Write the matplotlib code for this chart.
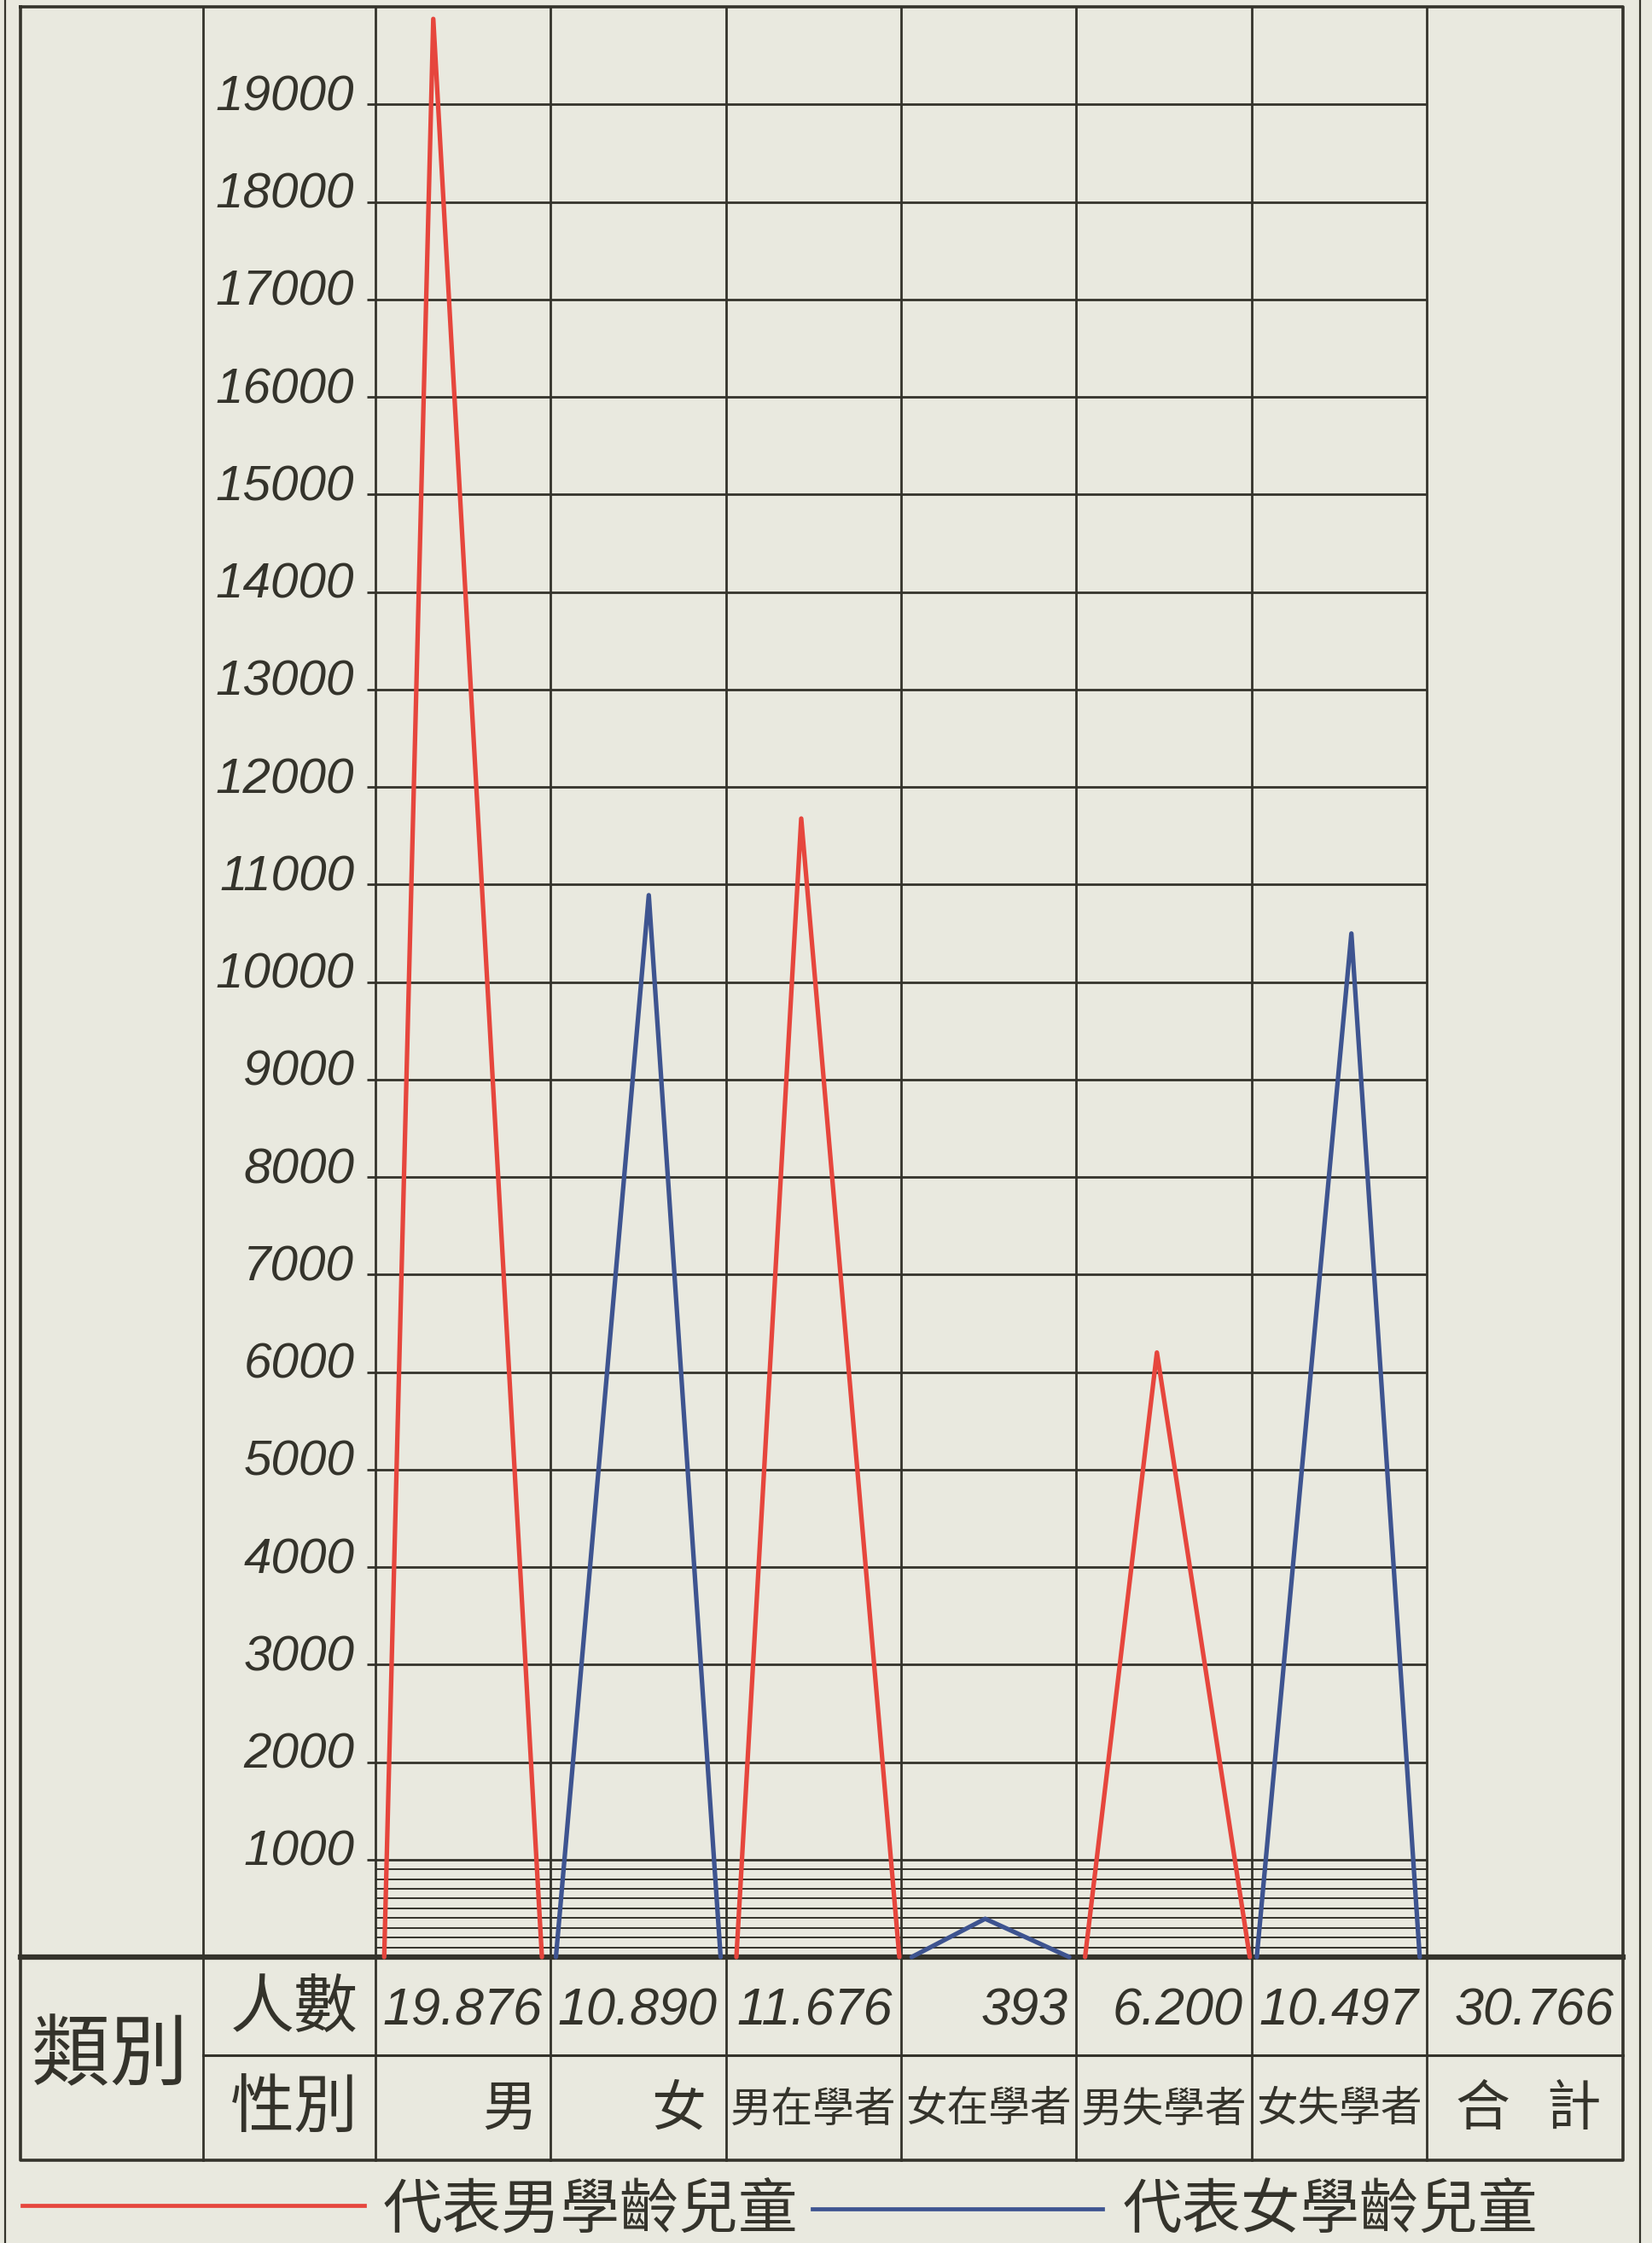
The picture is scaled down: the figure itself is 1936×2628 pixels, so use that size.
import matplotlib
matplotlib.use('Agg')
import matplotlib.pyplot as plt
import numpy as np

plt.rcParams['font.family'] = ['Noto Sans CJK TC', 'DejaVu Sans']

# data
categories = ['男', '女', '男在學者', '女在學者', '男失學者', '女失學者']
counts = [19876, 10890, 11676, 393, 6200, 10497]
sexes = ['m', 'f', 'm', 'f', 'm', 'f']
total_label = '合   計'
total = 30766
yticks = list(range(1000, 20000, 1000))
minor_ticks = list(range(100, 1000, 100))
row_titles = ['人數', '性別']
side_title = '類別'
legend_labels = ['代表男學齡兒童', '代表女學齡兒童']

# where each hand drawn peak sits inside its column
rise = [0.05, 0.03, 0.06, 0.06, 0.05, 0.03]
apex = [0.33, 0.56, 0.43, 0.48, 0.46, 0.57]
fall = [0.95, 0.97, 0.99, 0.96, 0.99, 0.96]

paper = '#e9e9df'
ink = '#34332b'
red = '#e6463d'
blue = '#3e5490'
colors = {'m': red, 'f': blue}

W, H = 1936, 2628
fig = plt.figure(figsize=(W / 100, H / 100), dpi=100)
fig.patch.set_facecolor(paper)

# background axes in pixel coords for frame / table / legend
bg = fig.add_axes([0, 0, 1, 1])
bg.set_xlim(0, W)
bg.set_ylim(H, 0)
bg.axis('off')
bg.set_facecolor(paper)

x_left, x_lab, x0, x6, x1 = 24, 238, 440, 1672, 1902
y_top, y_zero, y_row, y_bot = 8, 2293, 2408, 2531
col_x = list(np.linspace(x0, x6, len(categories) + 1)) + [x1]

# chart axes (data columns only)
n = len(categories)
ax = fig.add_axes([x0 / W, 1 - y_zero / H, (x6 - x0) / W, (y_zero - y_top) / H])
ax.set_xlim(0, n)
ax.set_ylim(0, 20000)
ax.axis('off')
ax.patch.set_alpha(0)

stub = 10 / ((x6 - x0) / n)
ax.hlines(yticks, -stub, n, color=ink, lw=2.0, clip_on=False)
ax.hlines(minor_ticks, 0, n, color=ink, lw=1.4)
ax.vlines(range(n + 1), 0, 20000, color=ink, lw=2.0, clip_on=False)

for v in yticks:
    ax.text(-0.12, v + 70, f'{v}', ha='right', va='center', fontsize=42,
            color=ink, family='Liberation Sans', style='italic', clip_on=False)

for i, (v, s) in enumerate(zip(counts, sexes)):
    xs = [i + rise[i], i + apex[i], i + fall[i]]
    ax.plot(xs, [0, v, 0], color=colors[s], lw=3.8, solid_joinstyle='round',
            solid_capstyle='round', clip_on=False)

# outer double border
for x in (6, 1922):
    bg.plot([x, x], [0, H], color=ink, lw=1.6)
# frame
bg.plot([x_left, x1, x1, x_left, x_left], [y_top, y_top, y_bot, y_bot, y_top],
        color=ink, lw=2.6)
bg.plot([x_lab, x_lab], [y_top, y_bot], color=ink, lw=2.0)
bg.plot([x_left, x1], [y_zero, y_zero], color=ink, lw=4.5)
bg.plot([x_lab, x1], [y_row, y_row], color=ink, lw=2.2)
for cx in col_x[:-1]:
    bg.plot([cx, cx], [y_zero, y_bot], color=ink, lw=2.0)

# table text
ym1 = (y_zero + y_row) / 2 + 4
ym2 = (y_row + y_bot) / 2 + 2
bg.text((x_left + x_lab) / 2 - 2, (y_zero + y_bot) / 2 - 2, side_title,
        ha='center', va='center', fontsize=66, color=ink)
bg.text((x_lab + x0) / 2 + 6, ym1, row_titles[0], ha='center', va='center',
        fontsize=54, color=ink)
bg.text((x_lab + x0) / 2 + 6, ym2, row_titles[1], ha='center', va='center',
        fontsize=54, color=ink)

nums = counts + [total]
for i, v in enumerate(nums):
    bg.text(col_x[i + 1] - 10, ym1 + 18, f'{v:,}'.replace(',', '.'),
            ha='right', va='baseline', fontsize=44, color=ink,
            family='Liberation Sans', style='italic')

for i, c in enumerate(categories):
    if len(c) == 1:
        bg.text(col_x[i + 1] - 16 - 8 * i, ym2, c, ha='right', va='center',
                fontsize=46, color=ink)
    else:
        bg.text((col_x[i] + col_x[i + 1]) / 2, ym2, c, ha='center',
                va='center', fontsize=35, color=ink)
bg.text((col_x[-2] + col_x[-1]) / 2 + 4, ym2, total_label, ha='center',
        va='center', fontsize=46, color=ink)

# legend
bg.plot([26, 427], [2584, 2584], color=red, lw=3.4)
bg.text(449, 2590, legend_labels[0], ha='left', va='center', fontsize=50,
        color=ink)
bg.plot([952, 1292], [2588, 2588], color=blue, lw=3.4)
bg.text(1316, 2590, legend_labels[1], ha='left', va='center', fontsize=50,
        color=ink)

fig.savefig('out.png', dpi=100, facecolor=paper)
